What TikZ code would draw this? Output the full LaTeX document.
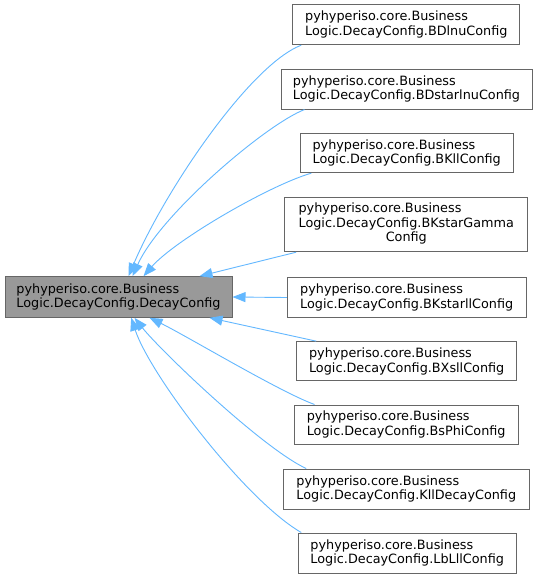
\documentclass[tikz,border=0pt]{standalone}
\usepackage{fontspec}
\newfontfamily\dejavu{DejaVu Sans}
\usetikzlibrary{arrows.meta,calc}
\definecolor{edgeblue}{HTML}{63B8FF}
\definecolor{boxborder}{HTML}{666666}
\definecolor{basefill}{HTML}{999999}
\begin{document}
\begin{tikzpicture}[x=1pt,y=-1pt,
  cls/.style={draw=boxborder, fill=white, line width=1pt, inner sep=0pt,
    align=left, text=black, font=\fontsize{12.8}{14.5}\selectfont\dejavu},
  basecls/.style={cls, fill=basefill},
  edge/.style={draw=edgeblue, line width=0.9pt,
    -{Triangle[length=13pt,width=10pt,fill=edgeblue]}}]
\useasboundingbox (0,0) rectangle (537,579);
\fill[white] (0,0) rectangle (537,579);

\node[basecls, minimum width=227pt, minimum height=40.6pt] (main) at (118.5,297)
  {pyhyperiso.core.Business\\Logic.DecayConfig.DecayConfig};

\node[cls, minimum width=227.3pt, minimum height=40pt] (bdlnu) at (406.3,24.7)
  {pyhyperiso.core.Business\\Logic.DecayConfig.BDlnuConfig};
\node[cls, minimum width=251pt, minimum height=39.7pt] (bdstar) at (406.5,89.2)
  {pyhyperiso.core.Business\\Logic.DecayConfig.BDstarlnuConfig};
\node[cls, minimum width=213.3pt, minimum height=39.4pt] (bkll) at (406.7,153)
  {pyhyperiso.core.Business\\Logic.DecayConfig.BKllConfig};
\node[cls, minimum width=242.7pt, minimum height=54.4pt] (bkgamma) at (406.3,224.5)
  {\begin{tabular}{@{}l@{}}pyhyperiso.core.Business\\Logic.DecayConfig.BKstarGamma\\\multicolumn{1}{@{}c@{}}{Config}\end{tabular}};
\node[cls, minimum width=238.7pt, minimum height=40.4pt] (bkstarll) at (406.7,297.5)
  {pyhyperiso.core.Business\\Logic.DecayConfig.BKstarllConfig};
\node[cls, minimum width=220pt, minimum height=39.3pt] (bxsll) at (406.7,361.3)
  {pyhyperiso.core.Business\\Logic.DecayConfig.BXsllConfig};
\node[cls, minimum width=224.3pt, minimum height=39pt] (bsphi) at (406.2,424.5)
  {pyhyperiso.core.Business\\Logic.DecayConfig.BsPhiConfig};
\node[cls, minimum width=246pt, minimum height=40pt] (kll) at (406.3,489)
  {pyhyperiso.core.Business\\Logic.DecayConfig.KllDecayConfig};
\node[cls, minimum width=217.7pt, minimum height=40pt] (lblll) at (407.2,553)
  {pyhyperiso.core.Business\\Logic.DecayConfig.LbLllConfig};

% edges (child -> parent)
\draw[edge] ($(bdlnu.south west)+(9,0)$) .. controls (250,65) and (165,190) .. ($(main.north west)+(124,0)$);
\draw[edge] ($(bdstar.south west)+(24,0)$) .. controls (265,125) and (160,215) .. ($(main.north west)+(128,0)$);
\draw[edge] ($(bkll.south west)+(11.7,0)$) .. controls (270,185) and (175,240) .. ($(main.north west)+(139,0)$);
\draw[edge] ($(bkgamma.south west)+(11.7,0)$) -- ($(main.north west)+(195,0)$);
\draw[edge] (bkstarll.west) -- (main.east);
\draw[edge] ($(bxsll.north west)+(20,0)$) -- ($(main.south west)+(205,0)$);
\draw[edge] ($(bsphi.north west)+(21,0)$) .. controls (280,392) and (185,335) .. ($(main.south west)+(145,0)$);
\draw[edge] ($(kll.north west)+(23.4,0)$) .. controls (262,448) and (160,350) .. ($(main.south west)+(130,0)$);
\draw[edge] ($(lblll.north west)+(3.4,0)$) .. controls (245,500) and (150,375) .. ($(main.south west)+(126.7,0)$);
\end{tikzpicture}
\end{document}
